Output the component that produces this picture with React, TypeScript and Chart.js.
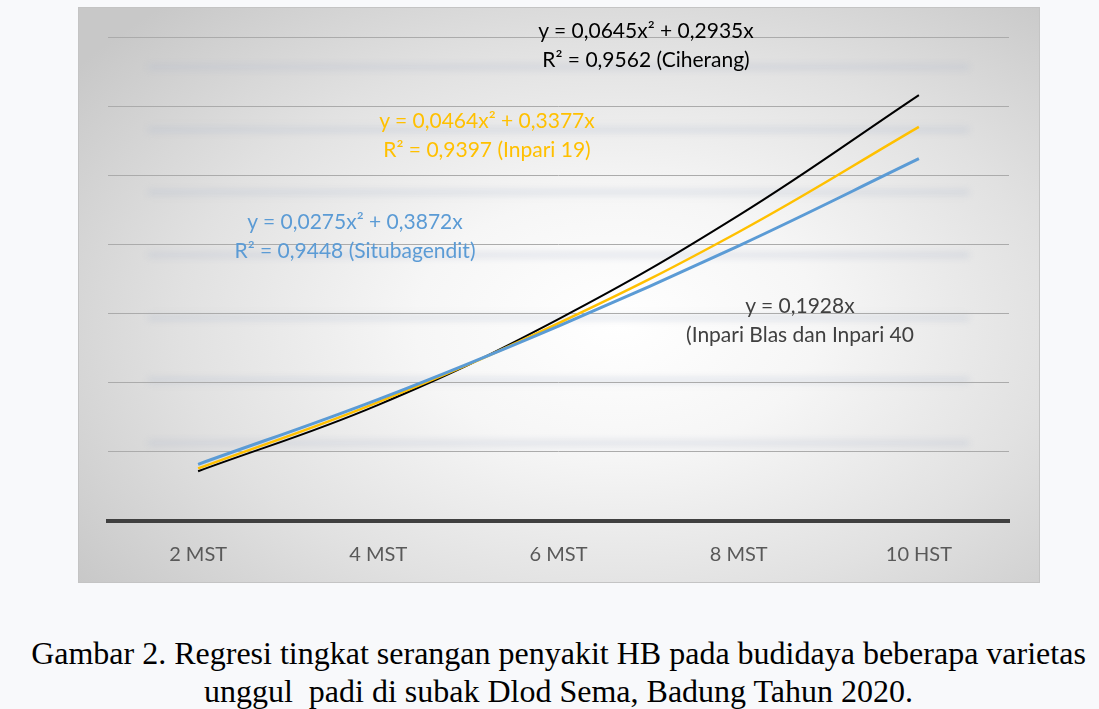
import React, { useEffect, useRef } from "react";
import { Chart, registerables } from "chart.js";

Chart.register(...registerables);

// ---- data ----
const categories = ["2 MST", "4 MST", "6 MST", "8 MST", "10 HST"];
const ciherang = [0.36, 0.84, 1.46, 2.21, 3.08];
const inpari19 = [0.38, 0.86, 1.43, 2.09, 2.85];
const situbagendit = [0.41, 0.88, 1.41, 1.99, 2.62];
const yMin = 0;
const yMax = 3.5;
const yStep = 0.5;

const annotations = [
  { lines: ["y = 0,0645x² + 0,2935x", "R² = 0,9562 (Ciherang)"], color: "#000000", x: 646, y: 15 },
  { lines: ["y = 0,0464x² + 0,3377x", "R² = 0,9397 (Inpari 19)"], color: "#FFC000", x: 487, y: 105 },
  { lines: ["y = 0,0275x² + 0,3872x", "R² = 0,9448 (Situbagendit)"], color: "#5B9BD5", x: 355, y: 206 },
  { lines: ["y = 0,1928x", "(Inpari Blas dan Inpari 40"], color: "#404040", x: 800, y: 290 },
];

const captionLines = [
  "Gambar 2. Regresi tingkat serangan penyakit HB pada budidaya beberapa varietas",
  "unggul  padi di subak Dlod Sema, Badung Tahun 2020.",
];

const reflectionPlugin = {
  id: "reflections",
  beforeDraw(chart: any) {
    const { ctx, chartArea } = chart;
    if (!chartArea) return;
    ctx.save();
    ctx.filter = "blur(3px)";
    ctx.strokeStyle = "rgba(175,185,205,0.3)";
    ctx.lineWidth = 6;
    const top = chartArea.top + 30;
    const bottom = chartArea.bottom - 78;
    const n = 7;
    for (let i = 0; i < n; i++) {
      const y = top + (i * (bottom - top)) / (n - 1);
      ctx.beginPath();
      ctx.moveTo(chartArea.left + 40, y);
      ctx.lineTo(chartArea.right - 40, y);
      ctx.stroke();
    }
    ctx.restore();
  },
};

function RegressionChart() {
  const ref = useRef<HTMLCanvasElement | null>(null);
  useEffect(() => {
    if (!ref.current) return;
    const chart = new Chart(ref.current, {
      type: "line",
      data: {
        labels: categories,
        datasets: [
          {
            label: "Situbagendit",
            data: situbagendit,
            borderColor: "#5B9BD5",
            borderWidth: 3,
            pointRadius: 0,
            tension: 0.4,
            fill: false,
          },
          {
            label: "Inpari 19",
            data: inpari19,
            borderColor: "#FFC000",
            borderWidth: 2.5,
            pointRadius: 0,
            tension: 0.4,
            fill: false,
          },
          {
            label: "Ciherang",
            data: ciherang,
            borderColor: "#000000",
            borderWidth: 2,
            pointRadius: 0,
            tension: 0.4,
            fill: false,
          },
        ],
      },
      options: {
        animation: false,
        responsive: false,
        maintainAspectRatio: false,
        layout: { padding: { left: 30, right: 31, top: 30, bottom: 0 } },
        plugins: {
          legend: { display: false },
          tooltip: { enabled: false },
        },
        scales: {
          x: {
            offset: true,
            grid: { display: false },
            border: { display: true, color: "#404040", width: 4 },
            ticks: {
              color: "#595959",
              font: { family: "Lato", size: 20 },
              padding: 14,
              maxRotation: 0,
            },
            afterFit(scale: any) {
              scale.height = 62;
            },
          },
          y: {
            min: yMin,
            max: yMax,
            ticks: { stepSize: yStep, display: false },
            border: { display: false },
            grid: {
              color: (c: any) => (c.tick && c.tick.value === 0 ? "rgba(0,0,0,0)" : "#ababab"),
              lineWidth: 1,
              drawTicks: false,
            },
            afterFit(scale: any) {
              scale.width = 0;
            },
          },
        },
      },
      plugins: [reflectionPlugin],
    });
    return () => chart.destroy();
  }, []);
  return <canvas ref={ref} width={962} height={576} style={{ display: "block" }} />;
}

export default function App() {
  return (
    <div
      style={{
        position: "fixed",
        left: 0,
        top: 0,
        width: 1099,
        height: 709,
        background: "#f8f9fb",
        overflow: "hidden",
      }}
    >
      <div
        style={{
          position: "absolute",
          left: 78,
          top: 7,
          width: 962,
          height: 576,
          boxSizing: "border-box",
          border: "1px solid #c4c4c4",
          background:
            "radial-gradient(ellipse 70% 75% at 56% 55%, #ffffff 0%, #f6f6f6 30%, #e1e1e1 65%, #c8c8c8 100%)",
        }}
      >
        <div style={{ position: "absolute", left: -1, top: -1 }}>
          <RegressionChart />
        </div>
      </div>
      {annotations.map((a, i) => (
        <div
          key={i}
          style={{
            position: "absolute",
            left: a.x,
            top: a.y,
            transform: "translateX(-50%)",
            color: a.color,
            fontFamily: "Lato",
            fontSize: 21,
            lineHeight: "29px",
            textAlign: "center",
            whiteSpace: "nowrap",
          }}
        >
          {a.lines.map((l, j) => (
            <div key={j}>{l}</div>
          ))}
        </div>
      ))}
      <div
        style={{
          position: "absolute",
          left: 9,
          top: 634,
          width: 1099,
          textAlign: "center",
          fontFamily: "'Liberation Serif', 'Times New Roman', serif",
          fontSize: 32,
          lineHeight: "38px",
          color: "#000",
          whiteSpace: "pre",
        }}
      >
        {captionLines.map((l, j) => (
          <div key={j}>{l}</div>
        ))}
      </div>
    </div>
  );
}
